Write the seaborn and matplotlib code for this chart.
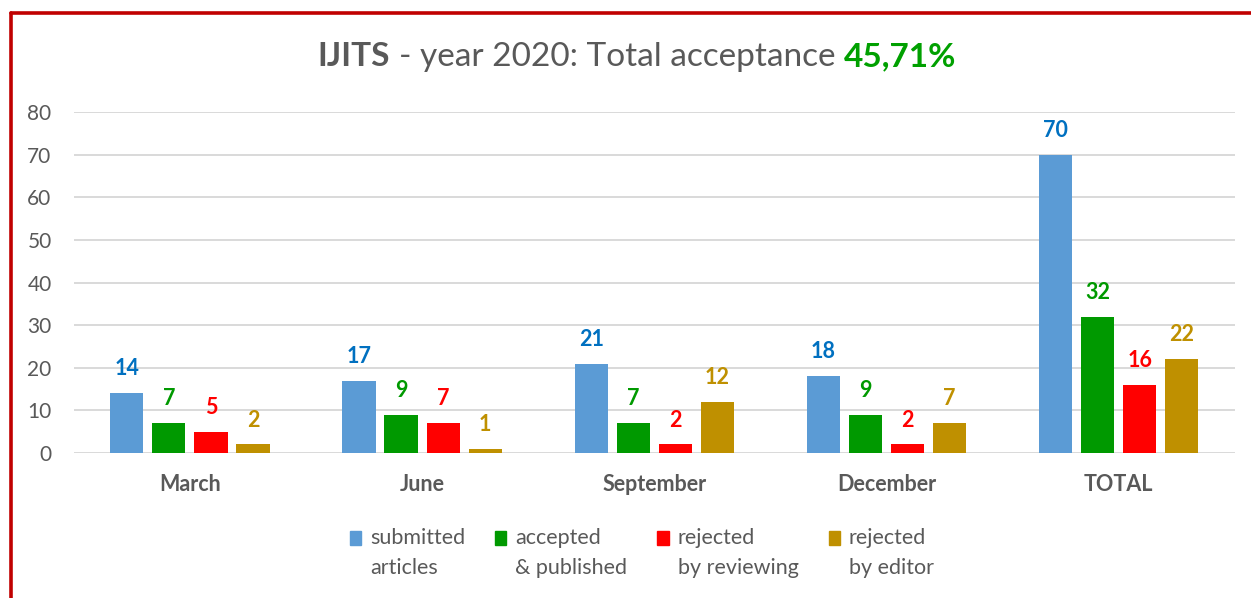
import matplotlib
matplotlib.use("Agg")
import matplotlib.pyplot as plt
import matplotlib.patches as mpatches
from matplotlib.lines import Line2D
from matplotlib.legend_handler import HandlerPatch
import seaborn as sns
import pandas as pd

# data
months = ["March", "June", "September", "December", "TOTAL"]
series = ["submitted\narticles", "accepted\n& published",
          "rejected\nby reviewing", "rejected\nby editor"]
submitted = [14, 17, 21, 18, 70]
accepted = [7, 9, 7, 9, 32]
rej_review = [5, 7, 2, 2, 16]
rej_editor = [2, 1, 12, 7, 22]

bar_colors = ["#5B9BD5", "#009900", "#FF0000", "#BF9000"]
label_colors = ["#0070C0", "#009900", "#FF0000", "#BF9000"]
grey = "#595959"

rows = []
for name, vals in zip(series, [submitted, accepted, rej_review, rej_editor]):
    for m, v in zip(months, vals):
        rows.append({"month": m, "series": name, "count": v})
df = pd.DataFrame(rows)

sns.set_theme(style="white")
plt.rcParams["font.family"] = ["Lato", "DejaVu Sans"]

fig = plt.figure(figsize=(12.51, 5.98), dpi=100)
ax = fig.add_axes([0.059, 0.2425, 0.928, 0.570])

sns.barplot(data=df, x="month", y="count", hue="series", order=months,
            hue_order=series, palette=bar_colors, saturation=1,
            width=0.724, gap=0.21, linewidth=0, ax=ax, legend=False)

ax.set_ylim(0, 80)
ax.set_yticks(range(0, 81, 10))
ax.yaxis.grid(True, color="#D9D9D9", lw=1.4)
ax.set_axisbelow(True)
for s in ax.spines.values():
    s.set_visible(False)
ax.set_xlabel("")
ax.set_ylabel("")
ax.tick_params(axis="y", length=0, pad=16, labelsize=15, labelcolor=grey)
ax.tick_params(axis="x", length=0, pad=15, labelsize=15.5, labelcolor=grey)
for t in ax.get_xticklabels():
    t.set_fontweight("bold")

# value labels above bars
for cont, col in zip(ax.containers, label_colors):
    ax.bar_label(cont, padding=10, color=col, fontsize=15.5, fontweight="bold")


# legend: square aligned with the first line of each two-line label
def top_patch(legend, orig_handle, xdescent, ydescent, width, height, fontsize):
    return mpatches.Rectangle((-xdescent, -ydescent + 0.72 * fontsize), width, height)


handles = [mpatches.Patch(color=c) for c in bar_colors]
leg = fig.legend(handles, series, loc="center", bbox_to_anchor=(0.513, 0.075),
                 ncol=4, frameon=False, fontsize=15.5, handlelength=0.52,
                 handleheight=0.65, handletextpad=0.42, columnspacing=1.4,
                 labelcolor=grey,
                 handler_map={mpatches.Patch: HandlerPatch(patch_func=top_patch)})
for t in leg.get_texts():
    t.set_linespacing(1.6)

# title built from three pieces
renderer = fig.canvas.get_renderer()
ty = 1 - 57 / 598
parts = [("IJITS", "bold", grey), ("- year 2020: Total acceptance", "normal", grey),
         ("45,71%", "bold", "#00A000")]
tsize = 24
txts = [fig.text(0, ty, s, fontsize=tsize, fontweight=w, color=c, va="center", ha="left")
        for s, w, c in parts]
probe1 = fig.text(0, 0, "a a", fontsize=tsize)
probe2 = fig.text(0, 0, "aa", fontsize=tsize)
space = (probe1.get_window_extent(renderer).width - probe2.get_window_extent(renderer).width)
probe1.remove()
probe2.remove()
widths = [t.get_window_extent(renderer).width for t in txts]
total = sum(widths) + 2 * space
x = 637 - total / 2
for t, w in zip(txts, widths):
    t.set_x(x / 1251)
    x += w + space

# red frame (left and top edges visible)
x0 = 11 / 1251
y0 = 1 - 12.5 / 598
fig.add_artist(Line2D([x0, x0], [0, y0], transform=fig.transFigure, color="#C00000", lw=2.6))
fig.add_artist(Line2D([x0, 1], [y0, y0], transform=fig.transFigure, color="#C00000", lw=2.6))

fig.savefig("out.png", dpi=100)
